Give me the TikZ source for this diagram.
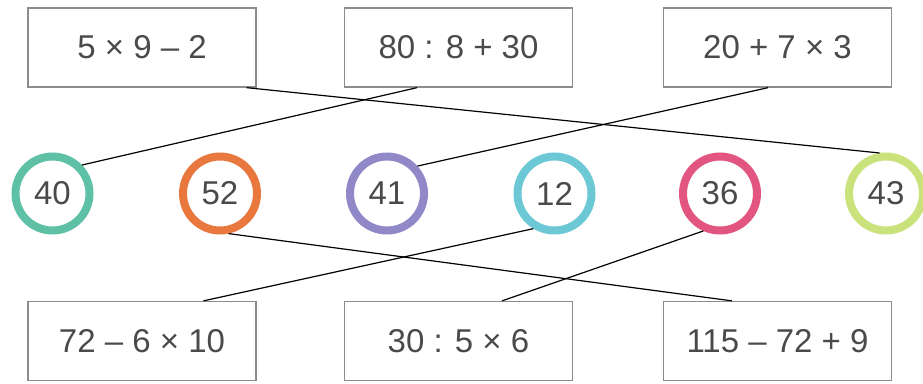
\documentclass[tikz,border=0pt]{standalone}
\usepackage{fontspec}
\setmainfont{Liberation Sans}
\usetikzlibrary{calc}
\definecolor{ctxt}{HTML}{4A4A4A}
\definecolor{boxgray}{HTML}{8C8C8C}
\definecolor{cteal}{HTML}{5EC1A6}
\definecolor{corange}{HTML}{E8783E}
\definecolor{cpurple}{HTML}{9188C8}
\definecolor{ccyan}{HTML}{6CC8D4}
\definecolor{cpink}{HTML}{E25581}
\definecolor{clime}{HTML}{C9E27C}
\begin{document}
\begin{tikzpicture}[x=1pt,y=-1pt,
  exprbox/.style={draw=boxgray,line width=1.3pt,minimum width=228pt,minimum height=79pt,inner sep=0pt,text=ctxt,font=\fontsize{33}{40}\selectfont},
  ring/.style={circle,draw=#1,line width=8pt,minimum size=74pt,inner sep=0pt,text=ctxt,font=\fontsize{33}{40}\selectfont},
  link/.style={black,line width=1.2pt}]
\useasboundingbox (0,0) rectangle (923,383);
% top boxes
\node[exprbox] (b1) at (142,47.5) {5 × 9 – 2};
\node[exprbox] (b2) at (458.5,47.5) {80 : 8 + 30};
\node[exprbox] (b3) at (777.5,47.5) {20 + 7 × 3};
% bottom boxes
\node[exprbox] (b4) at (142,341) {72 – 6 × 10};
\node[exprbox] (b5) at (458.5,341) {30 : 5 × 6};
\node[exprbox] (b6) at (777.5,341) {115 – 72 + 9};
% rings
\node[ring=cteal] (c40) at (52.5,193.5) {40};
\node[ring=corange] (c52) at (220,193.5) {52};
\node[ring=cpurple] (c41) at (387,193.5) {41};
\node[ring=ccyan] (c12) at (554.5,193.5) {12};
\node[ring=cpink] (c36) at (720,193.5) {36};
\node[ring=clime] (c43) at (886,193.5) {43};
% connectors
\draw[link] ($(b1.south west)!0.956!(b1.south east)$) -- (c43.99);
\draw[link] ($(b2.south west)!0.319!(b2.south east)$) -- (c40.44);
\draw[link] ($(b3.south west)!0.459!(b3.south east)$) -- (c41.42);
\draw[link] (c52.282) -- ($(b6.north west)!0.301!(b6.north east)$);
\draw[link] (c12.239) -- ($(b4.north west)!0.768!(b4.north east)$);
\draw[link] (c36.246) -- ($(b5.north west)!0.69!(b5.north east)$);
\end{tikzpicture}
\end{document}
